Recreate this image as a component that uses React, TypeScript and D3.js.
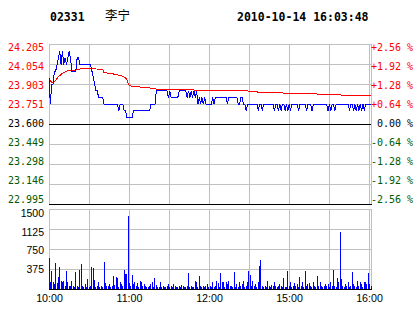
import React from "react";
import * as d3 from "d3";

const stockCode = "02331";
const stockName = "李宁";
const stamp = "2010-10-14 16:03:48";

const priceTicks = [24.205, 24.054, 23.903, 23.751, 23.6, 23.449, 23.298, 23.146, 22.995];
const priceTickLabels = ["24.205", "24.054", "23.903", "23.751", "23.600", "23.449", "23.298", "23.146", "22.995"];
const pctLabels = ["+2.56 %", "+1.92 %", "+1.28 %", "+0.64 %", " 0.00 %", "-0.64 %", "-1.28 %", "-1.92 %", "-2.56 %"];
const volTicks = [1500, 1125, 750, 375];
const timeLabels = ["10:00", "11:00", "12:00", "15:00", "16:00"];
const timeLabelSlots = [0, 2, 4, 6, 8];

// [minute, price]
const pricePoints: [number, number][] = [
  [0, 23.95], [1, 23.75], [2, 23.9], [3, 23.9], [4, 24.0], [5, 24.0], [6, 24.05], [7, 24.1], [8, 24.15], [9, 24.05],
  [10, 24.15], [11, 24.05], [12, 24.1], [13, 24.05], [14, 24.1], [15, 24.15], [16, 24.1], [17, 24.0], [20, 24.0],
  [21, 24.1], [22, 24.1], [23, 24.05], [31, 24.05], [32, 24.0], [33, 23.95], [34, 23.9], [35, 23.85], [36, 23.85],
  [37, 23.8], [40, 23.8], [41, 23.75], [51, 23.75], [52, 23.7], [53, 23.75], [55, 23.75], [56, 23.7], [57, 23.7],
  [58, 23.65], [62, 23.65], [63, 23.7], [75, 23.7], [76, 23.75], [79, 23.75], [80, 23.85], [88, 23.85], [89, 23.8],
  [90, 23.85], [91, 23.8], [96, 23.8], [97, 23.85], [102, 23.85], [103, 23.8], [104, 23.85], [105, 23.8], [106, 23.85],
  [107, 23.8], [108, 23.85], [109, 23.8], [110, 23.85], [111, 23.75], [112, 23.8], [113, 23.75], [114, 23.8],
  [115, 23.75], [116, 23.8], [117, 23.75], [121, 23.75], [122, 23.8], [123, 23.75], [124, 23.8], [132, 23.8],
  [133, 23.75], [134, 23.8], [140, 23.8], [141, 23.75], [142, 23.75], [143, 23.8], [144, 23.8], [145, 23.75],
  [146, 23.75], [147, 23.7], [148, 23.75], [155, 23.75], [156, 23.7], [157, 23.75], [158, 23.75], [159, 23.7],
  [160, 23.75], [167, 23.75], [168, 23.7], [169, 23.75], [170, 23.75], [171, 23.7], [172, 23.75], [173, 23.7],
  [174, 23.75], [175, 23.75], [176, 23.7], [177, 23.75], [178, 23.7], [179, 23.75], [180, 23.7], [181, 23.75],
  [185, 23.75], [186, 23.7], [187, 23.75], [191, 23.75], [192, 23.7], [193, 23.75], [195, 23.75], [196, 23.7],
  [197, 23.75], [207, 23.75], [208, 23.7], [209, 23.75], [210, 23.7], [211, 23.75], [212, 23.75], [213, 23.7],
  [214, 23.75], [223, 23.75], [224, 23.7], [225, 23.75], [226, 23.75], [227, 23.7], [228, 23.75], [229, 23.7],
  [230, 23.75], [231, 23.7], [232, 23.75], [233, 23.7], [234, 23.75], [235, 23.7], [236, 23.75], [240, 23.75],
];

// [minute, average price]
const avgPoints: [number, number][] = [
  [0, 23.945], [1, 23.93], [2, 23.912], [3, 23.915], [5, 23.93], [7, 23.957], [10, 23.983], [12, 23.995],
  [14, 24.002], [19, 24.008], [24, 24.018], [40, 24.015], [41, 23.99], [45, 23.983], [50, 23.975], [55, 23.962],
  [57, 23.95], [58, 23.937], [59, 23.907], [60, 23.89], [64, 23.882], [72, 23.877], [80, 23.864], [107, 23.864],
  [108, 23.857], [129, 23.857], [130, 23.851], [148, 23.851], [150, 23.844], [155, 23.844], [156, 23.839],
  [174, 23.839], [175, 23.832], [199, 23.832], [200, 23.824], [217, 23.824], [218, 23.814], [240, 23.814],
];

// one value per minute, 0..240
const volumes = [
  575, 137, 343, 125, 94, 480, 106, 219, 406, 156,
  137, 156, 62, 343, 137, 62, 62, 156, 62, 44,
  312, 62, 44, 356, 469, 62, 44, 94, 44, 187,
  44, 62, 406, 400, 169, 44, 62, 137, 44, 62,
  44, 512, 106, 62, 62, 94, 44, 62, 250, 81,
  231, 200, 44, 125, 94, 62, 362, 281, 281, 1375,
  106, 62, 269, 94, 125, 62, 106, 30, 156, 125,
  62, 94, 62, 44, 30, 62, 94, 125, 30, 206,
  81, 44, 30, 137, 44, 62, 30, 44, 62, 94,
  30, 62, 44, 94, 62, 30, 44, 62, 44, 81,
  62, 30, 44, 62, 294, 44, 62, 30, 44, 156,
  125, 30, 250, 62, 44, 62, 30, 62, 94, 44,
  62, 30, 125, 44, 62, 156, 106, 30, 294, 125,
  137, 30, 125, 94, 156, 62, 62, 30, 312, 44,
  94, 30, 125, 62, 94, 156, 30, 62, 125, 331,
  269, 62, 156, 62, 94, 30, 125, 440, 540, 62,
  44, 62, 30, 156, 62, 30, 81, 62, 125, 62,
  30, 62, 94, 62, 30, 200, 44, 30, 331, 62,
  125, 30, 62, 106, 62, 94, 30, 231, 62, 125,
  30, 343, 62, 94, 106, 62, 30, 125, 62, 30,
  250, 62, 137, 62, 30, 62, 94, 62, 94, 30,
  137, 62, 362, 62, 30, 206, 137, 1062, 187, 62,
  30, 94, 62, 137, 30, 62, 325, 94, 62, 30,
  156, 62, 125, 94, 30, 125, 125, 94, 294, 94,
  62,
];

const MONO = "'DejaVu Sans Mono', monospace";
const SANS = "'Liberation Sans', Arial, sans-serif";
const GRID = "#c0c0c0";
const RED = "#ff0000";
const GREEN = "#005a00";
const BLUE = "#0000ff";

export default function App() {
  const L = 49, R = 371, GR = 369;
  const xData = d3.scaleLinear().domain([0, 240]).range([L, R]);
  const xGrid = d3.scaleLinear().domain([0, 8]).range([L, GR]);
  const yPrice = d3.scaleLinear().domain([22.995, 24.205]).range([204, 44]);
  const yPriceLabel = d3.scaleLinear().domain([22.995, 24.205]).range([203.3, 51]);
  const yVol = d3.scaleLinear().domain([0, 1500]).range([289, 209]);
  const yVolLabel = d3.scaleLinear().domain([0, 1500]).range([292.2, 216.7]);

  const line = d3
    .line<[number, number]>()
    .x((d) => xData(d[0]))
    .y((d) => yPrice(d[1]));

  const px = (v: number) => Math.round(v) + 0.5;
  const gridSlots = d3.range(9);

  return (
    <svg
      width={414}
      height={314}
      style={{ position: "absolute", left: 0, top: 0, background: "#fff" }}
    >
      <rect x={0} y={0} width={414} height={314} fill="#fff" />
      {/* header */}
      <text x={50} y={20.5} fontFamily={MONO} fontWeight="bold" fontSize={11.5} fill="#000">
        {stockCode}
      </text>
      <text x={105} y={20} fontFamily="'Noto Sans CJK SC', sans-serif" fontSize={12.5} fill="#000">
        {stockName}
      </text>
      <text x={237} y={20.5} fontFamily={MONO} fontWeight="bold" fontSize={11.5} fill="#000">
        {stamp}
      </text>

      {/* price grid */}
      <g shapeRendering="crispEdges">
        {priceTicks.map((t, i) =>
          i === 4 || i === 8 ? null : (
            <line key={"ph" + i} x1={L} x2={R} y1={px(yPrice(t))} y2={px(yPrice(t))} stroke={GRID} />
          )
        )}
        {gridSlots.map((s) => (
          <line key={"pv" + s} x1={px(xGrid(s))} x2={px(xGrid(s))} y1={44} y2={204} stroke={GRID} />
        ))}
        <line x1={px(R)} x2={px(R)} y1={44} y2={205} stroke={GRID} />
      </g>

      {/* volume grid */}
      <g shapeRendering="crispEdges">
        {volTicks.map((t) => (
          <line key={"vh" + t} x1={L} x2={R} y1={px(yVol(t))} y2={px(yVol(t))} stroke={GRID} />
        ))}
        {gridSlots.map((s) => (
          <line key={"vv" + s} x1={px(xGrid(s))} x2={px(xGrid(s))} y1={209} y2={289} stroke={GRID} />
        ))}
        <line x1={px(R)} x2={px(R)} y1={209} y2={289} stroke={GRID} />
      </g>

      {/* volume bars */}
      <g shapeRendering="crispEdges">
        {volumes.map((v, i) => (
          <rect
            key={"b" + i}
            x={Math.floor(xData(i))}
            width={1}
            y={yVol(v)}
            height={yVol(0) - yVol(v)}
            fill={BLUE}
          />
        ))}
      </g>

      {/* lines */}
      <g shapeRendering="crispEdges" fill="none">
        <path d={line(avgPoints) || ""} stroke={RED} strokeWidth={1} />
        <path d={line(pricePoints) || ""} stroke={BLUE} strokeWidth={1} />
      </g>

      {/* black base lines */}
      <g shapeRendering="crispEdges">
        <line x1={L} x2={R} y1={px(yPrice(23.6))} y2={px(yPrice(23.6))} stroke="#000" />
        <line x1={L} x2={R + 1} y1={px(yPrice(22.995))} y2={px(yPrice(22.995))} stroke="#000" />
        <line x1={L} x2={R + 1} y1={px(yVol(0))} y2={px(yVol(0))} stroke="#000" />
      </g>

      {/* left price labels */}
      {priceTicks.map((t, i) => (
        <text
          key={"pl" + i}
          x={44}
          y={yPriceLabel(t)}
          textAnchor="end"
          fontFamily={MONO}
          fontSize={10}
          fill={i < 4 ? RED : i === 4 ? "#000" : GREEN}
        >
          {priceTickLabels[i]}
        </text>
      ))}

      {/* right percent labels */}
      {priceTicks.map((t, i) => (
        <text
          key={"pr" + i}
          x={371}
          y={yPriceLabel(t)}
          fontFamily={MONO}
          fontSize={10}
          style={{ whiteSpace: "pre" }}
          fill={i < 4 ? RED : i === 4 ? "#000" : GREEN}
        >
          {pctLabels[i]}
        </text>
      ))}

      {/* volume labels */}
      {volTicks.map((t) => (
        <text
          key={"vl" + t}
          x={44}
          y={yVolLabel(t)}
          textAnchor="end"
          fontFamily={SANS}
          fontSize={10.5}
          fill="#000"
        >
          {t}
        </text>
      ))}

      {/* time labels */}
      {timeLabels.map((t, i) => (
        <text
          key={"tl" + t}
          x={xGrid(timeLabelSlots[i]) + 0.5}
          y={302}
          textAnchor="middle"
          fontFamily={SANS}
          fontSize={10.7}
          fill="#000"
        >
          {t}
        </text>
      ))}
    </svg>
  );
}
